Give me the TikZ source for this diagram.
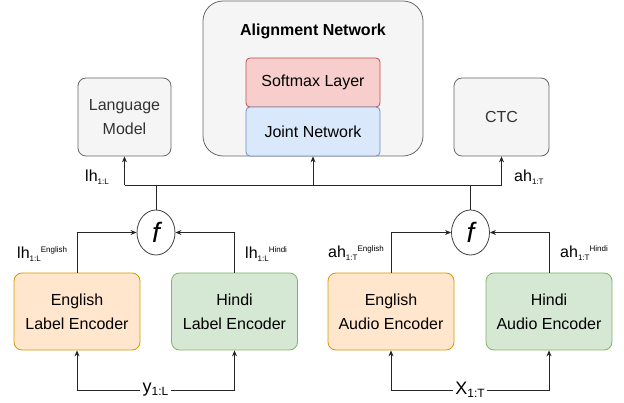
\documentclass[tikz,border=0pt]{standalone}
\usepackage{fontspec}
\setmainfont{Liberation Sans}
\usetikzlibrary{arrows.meta,shapes.geometric}
\definecolor{grayfill}{HTML}{F5F5F5}
\definecolor{graydraw}{HTML}{666666}
\definecolor{graytext}{HTML}{333333}
\definecolor{redfill}{HTML}{F8CECC}
\definecolor{reddraw}{HTML}{B85450}
\definecolor{bluefill}{HTML}{DAE8FC}
\definecolor{bluedraw}{HTML}{6C8EBF}
\definecolor{orangefill}{HTML}{FFE6CC}
\definecolor{orangedraw}{HTML}{D79B00}
\definecolor{greenfill}{HTML}{D5E8D4}
\definecolor{greendraw}{HTML}{82B366}
\newcommand\smalltxt[1]{{\fontsize{8}{8}\selectfont #1}}
\begin{document}
\begin{tikzpicture}[x=1pt,y=-1pt,
  box/.style={draw, line width=0.8pt, align=center, inner sep=0pt, rounded corners=8pt,
    font=\fontsize{16}{24}\selectfont},
  graybox/.style={box, fill=grayfill, draw=graydraw, text=graytext},
  orangebox/.style={box, fill=orangefill, draw=orangedraw, minimum width=126, minimum height=77},
  greenbox/.style={box, fill=greenfill, draw=greendraw, minimum width=126, minimum height=77},
  layerbox/.style={box, rounded corners=4pt, minimum width=134, minimum height=49},
  fnode/.style={ellipse, draw=black!75, line width=0.8pt, fill=white, minimum width=38, minimum height=45, inner sep=0pt,
    font=\fontsize{28}{28}\selectfont\itshape},
  conn/.style={line width=0.8pt, draw=black!85},
  arr/.style={conn, -{Stealth[length=6pt,width=5pt]}},
  lbl/.style={inner sep=0pt, font=\fontsize{16}{16}\selectfont},
  inlbl/.style={inner sep=2pt, fill=white, font=\fontsize{18}{18}\selectfont}
]
\useasboundingbox (0,0) rectangle (624,403);

% top row
\node[graybox, minimum width=93, minimum height=78] (lm) at (124.5,117) {Language\\Model};
\node[graybox, rounded corners=20pt, minimum width=220, minimum height=155, text=black] (align) at (313,78.5) {};
\node[font=\fontsize{16}{16}\selectfont\bfseries, inner sep=0pt] (aligntitle) at (313,31) {Alignment Network};
\node[layerbox, fill=redfill, draw=reddraw] (softmax) at (313,82.5) {Softmax Layer};
\node[layerbox, fill=bluefill, draw=bluedraw] (joint) at (313,131.5) {Joint Network};
\node[graybox, minimum width=95, minimum height=78] (ctc) at (501.5,117) {CTC};

% combination nodes
\node[fnode] (fL) at (156,232.5) {f};
\node[fnode] (fR) at (470.5,232.5) {f};

% encoders
\node[orangebox] (ele) at (77,311.5) {English\\Label Encoder};
\node[greenbox] (hle) at (234.5,311.5) {Hindi\\Label Encoder};
\node[orangebox] (eae) at (391,311.5) {English\\Audio Encoder};
\node[greenbox] (hae) at (549,311.5) {Hindi\\Audio Encoder};

% bus
\coordinate (busL) at (124.5,185);
\coordinate (busR) at (501.5,185);
\draw[conn] (busL) -- (busR);
\draw[arr] (busL) -- (lm.south);
\draw[arr] (joint.south |- busL) -- (joint.south);
\draw[arr] (busR) -- (ctc.south);
\draw[conn] (fL.north) -- (fL.north |- busL);
\draw[conn] (fR.north) -- (fR.north |- busL);

% encoder outputs
\draw[arr] (ele.north) |- (fL.west);
\draw[arr] (hle.north) |- (fL.east);
\draw[arr] (eae.north) |- (fR.west);
\draw[arr] (hae.north) |- (fR.east);

% inputs
\node[inlbl] (yin) at (155.5,390) {y\raisebox{-3pt}{\fontsize{12}{12}\selectfont 1:L}};
\node[inlbl] (xin) at (470,390) {X\raisebox{-3pt}{\fontsize{12}{12}\selectfont 1:T}};
\draw[arr] (yin.west) -| (ele.south);
\draw[arr] (yin.east) -| (hle.south);
\draw[arr] (xin.west) -| (eae.south);
\draw[arr] (xin.east) -| (hae.south);

% labels
\node[lbl, anchor=base west] (lhl) at (85,182) {lh\raisebox{-3pt}{\smalltxt{1:L}}};
\node[lbl, anchor=base west] (aht) at (514,182) {ah\raisebox{-3pt}{\smalltxt{1:T}}};
\node[lbl, anchor=base west] (lhe) at (17,259) {lh\raisebox{-3pt}{\smalltxt{1:L}}\raisebox{6pt}{\smalltxt{English}}};
\node[lbl, anchor=base west] (lhh) at (245,259) {lh\raisebox{-3pt}{\smalltxt{1:L}}\raisebox{6pt}{\smalltxt{Hindi}}};
\node[lbl, anchor=base west] (ahe) at (328,258) {ah\raisebox{-3pt}{\smalltxt{1:T}}\raisebox{6pt}{\smalltxt{English}}};
\node[lbl, anchor=base west] (ahh) at (560,258) {ah\raisebox{-3pt}{\smalltxt{1:T}}\raisebox{6pt}{\smalltxt{Hindi}}};
\end{tikzpicture}
\end{document}
